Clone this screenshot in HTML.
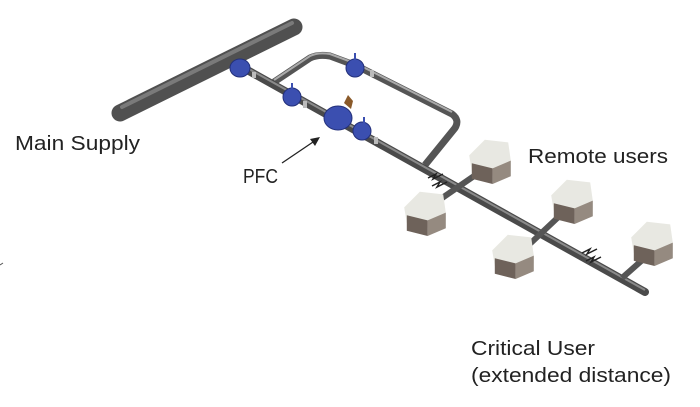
<!DOCTYPE html>
<html><head><style>
html,body{margin:0;padding:0;background:#fff;}
svg{display:block;}
text{font-family:"Liberation Sans",sans-serif;fill:#222;}
</style></head><body>
<svg width="700" height="407" viewBox="0 0 700 407" xmlns="http://www.w3.org/2000/svg">
<!-- main supply pipe -->
<line x1="120" y1="113" x2="294" y2="27" stroke="#505050" stroke-width="17" stroke-linecap="round"/>
<line x1="122" y1="107" x2="292" y2="23" stroke="#7a7a7a" stroke-width="4" stroke-linecap="round"/>
<!-- bypass -->
<path d="M274 82 L310 58 Q318 54 330 56 L357 66 L452 114 Q460 120 455 128 L425 165" fill="none" stroke="#555" stroke-width="7" stroke-linejoin="round"/>
<path d="M274 80 L310 56 Q318 52 330 54 L357 64 L452 112" fill="none" stroke="#aaa" stroke-width="2"/>
<!-- main line -->
<line x1="240" y1="66" x2="645" y2="292" stroke="#4a4a4a" stroke-width="8" stroke-linecap="round"/>
<line x1="240" y1="64" x2="645" y2="290" stroke="#8a8a8a" stroke-width="2"/>
<!-- branches -->
<line x1="490" y1="165" x2="432" y2="205" stroke="#555" stroke-width="6"/>
<line x1="568" y1="208" x2="518" y2="255" stroke="#555" stroke-width="6"/>
<line x1="622" y1="278" x2="648" y2="255" stroke="#555" stroke-width="6"/>
<!-- break marks -->
<g stroke="#222" stroke-width="1.5" fill="none">
<path d="M428 178 l8 -4 l-3 5 l10 -5"/><path d="M432 186 l8 -4 l-3 5 l10 -5"/>
<path d="M582 253 l8 -4 l-3 5 l10 -5"/><path d="M586 261 l8 -4 l-3 5 l10 -5"/>
</g>
<!-- valves -->
<g fill="#3b4fb0" stroke="#23307a" stroke-width="1">
<ellipse cx="240" cy="68" rx="10" ry="9"/>
<ellipse cx="292" cy="97" rx="9" ry="9"/>
<ellipse cx="355" cy="68" rx="9" ry="9"/>
<ellipse cx="338" cy="118" rx="14" ry="12"/>
<ellipse cx="362" cy="131" rx="9" ry="9"/>
</g>
<g stroke="#3b4fb0" stroke-width="2">
<line x1="292" y1="89" x2="292" y2="83"/><line x1="355" y1="60" x2="355" y2="53"/><line x1="364" y1="123" x2="364" y2="117"/>
</g>
<path d="M344 103 l4 -8 l5 6 l-2 8z" fill="#8a5a2a"/>
<g fill="#bbb"><rect x="252" y="72" width="4" height="6"/><rect x="303" y="101" width="4" height="7"/><rect x="370" y="70" width="4" height="7"/><rect x="374" y="137" width="4" height="7"/></g>
<!-- houses -->
<g>
<g transform="translate(490,158) scale(1.3)"><path d="M-16 -2 L-4 -14 L14 -12 L16 2 L4 14 L-14 10Z" fill="#e8e8e2"/><path d="M-14 4 L2 8 L2 20 L-14 16Z" fill="#6e625a"/><path d="M2 8 L16 2 L16 14 L2 20Z" fill="#958a80"/></g>
<g transform="translate(425,210) scale(1.3)"><path d="M-16 -2 L-4 -14 L14 -12 L16 2 L4 14 L-14 10Z" fill="#e8e8e2"/><path d="M-14 4 L2 8 L2 20 L-14 16Z" fill="#6e625a"/><path d="M2 8 L16 2 L16 14 L2 20Z" fill="#958a80"/></g>
<g transform="translate(572,198) scale(1.3)"><path d="M-16 -2 L-4 -14 L14 -12 L16 2 L4 14 L-14 10Z" fill="#e8e8e2"/><path d="M-14 4 L2 8 L2 20 L-14 16Z" fill="#6e625a"/><path d="M2 8 L16 2 L16 14 L2 20Z" fill="#958a80"/></g>
<g transform="translate(513,253) scale(1.3)"><path d="M-16 -2 L-4 -14 L14 -12 L16 2 L4 14 L-14 10Z" fill="#e8e8e2"/><path d="M-14 4 L2 8 L2 20 L-14 16Z" fill="#6e625a"/><path d="M2 8 L16 2 L16 14 L2 20Z" fill="#958a80"/></g>
<g transform="translate(652,240) scale(1.3)"><path d="M-16 -2 L-4 -14 L14 -12 L16 2 L4 14 L-14 10Z" fill="#e8e8e2"/><path d="M-14 4 L2 8 L2 20 L-14 16Z" fill="#6e625a"/><path d="M2 8 L16 2 L16 14 L2 20Z" fill="#958a80"/></g>
</g>
<!-- PFC arrow -->
<line x1="282" y1="163" x2="316" y2="140" stroke="#222" stroke-width="1.3"/>
<path d="M320 137 l-10 2 l5 7z" fill="#222"/>
<!-- labels -->
<text x="15" y="150" font-size="20" textLength="125" lengthAdjust="spacingAndGlyphs">Main Supply</text>
<text x="243" y="183" font-size="20" textLength="35" lengthAdjust="spacingAndGlyphs">PFC</text>
<text x="528" y="163" font-size="20" textLength="140" lengthAdjust="spacingAndGlyphs">Remote users</text>
<text x="471" y="355" font-size="20" textLength="124" lengthAdjust="spacingAndGlyphs">Critical User</text>
<text x="471" y="382" font-size="20" textLength="200" lengthAdjust="spacingAndGlyphs">(extended distance)</text>
<line x1="0" y1="265" x2="3" y2="263" stroke="#555"/>
</svg>
</body></html>
